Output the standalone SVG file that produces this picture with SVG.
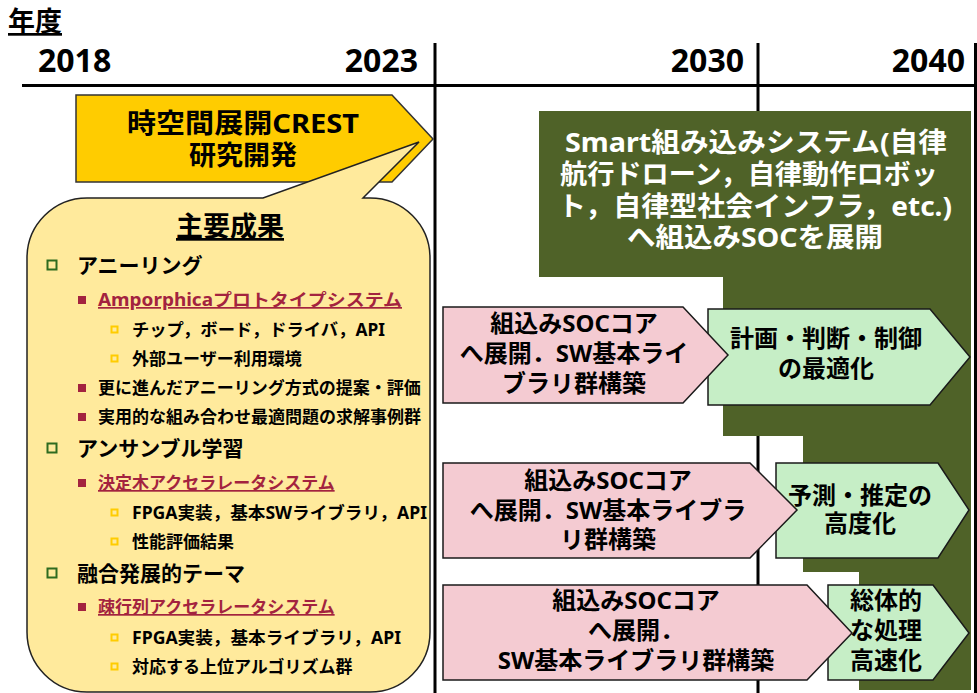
<svg xmlns="http://www.w3.org/2000/svg" width="977" height="693" viewBox="0 0 977 693">
<style>
text{font-family:"Noto Sans","Noto Sans CJK JP",sans-serif;font-weight:bold;fill:#000}
.yr{font-size:32px}
.l1{font-size:21px}
.l2{font-size:17px}
.l3{font-size:17px}
.red{fill:#A3233F;text-decoration:underline}
.c{text-anchor:middle}
.ar{font-size:24px}
.wt{fill:#fff;font-size:27px;text-anchor:middle}
.b1{fill:none;stroke:#2E6B1F;stroke-width:2}
.b2{fill:#A3233F}
.b3{fill:none;stroke:#FFCC00;stroke-width:2}
.pink{fill:#F4CBD2;stroke:#1a1a1a;stroke-width:1.5}
.lg{fill:#C6EEC6;stroke:#1a1a1a;stroke-width:1.5}
.axis{stroke:#000;stroke-width:3}
</style>
<rect width="977" height="693" fill="#fff"/>
<g id="axes">
<text x="8" y="31" style="font-size:27px;text-decoration:underline">年度</text>
<text class="yr" x="38" y="72">2018</text>
<text class="yr" x="418" y="72" text-anchor="end">2023</text>
<text class="yr" x="744" y="72" text-anchor="end">2030</text>
<text class="yr" x="965" y="72" text-anchor="end">2040</text>
<line class="axis" x1="22" y1="85.5" x2="977" y2="85.5"/>
<line class="axis" x1="435" y1="43" x2="435" y2="693"/>
<line class="axis" x1="758" y1="43" x2="758" y2="693"/>
<line class="axis" x1="975.5" y1="43" x2="975.5" y2="693"/>
</g>
<g id="crest">
<polygon points="76,95 392,95 433,139 392,182 76,182" fill="#FFCC00" stroke="#333" stroke-width="1.5"/>
<text class="c" x="243" y="133" style="font-size:27px" textLength="232" lengthAdjust="spacingAndGlyphs">時空間展開CREST</text>
<text class="c" x="243" y="165" style="font-size:27px">研究開発</text>
</g>
<g id="results">
<path d="M87,198 L263,198 L419,142 L363,198 L370,198 A60,60 0 0 1 430,258 L430,632 A60,60 0 0 1 370,692 L87,692 A60,60 0 0 1 27,632 L27,258 A60,60 0 0 1 87,198 Z" fill="#FFEA9C" stroke="#222" stroke-width="1.5"/>
<text class="c" x="230" y="236" style="font-size:27px;text-decoration:underline">主要成果</text>
<rect class="b1" x="47.5" y="260.5" width="9" height="9"/>
<text class="l1" x="77" y="273">アニーリング</text>
<rect class="b2" x="78" y="296" width="8" height="8"/>
<text class="l2 red" x="98" y="306" textLength="304" lengthAdjust="spacingAndGlyphs">Amporphicaプロトタイプシステム</text>
<rect class="b3" x="111.5" y="326.5" width="6" height="6"/>
<text class="l3" x="132" y="336" textLength="253" lengthAdjust="spacingAndGlyphs">チップ，ボード，ドライバ，API</text>
<rect class="b3" x="111.5" y="355.5" width="6" height="6"/>
<text class="l3" x="132" y="365">外部ユーザー利用環境</text>
<rect class="b2" x="78" y="384" width="8" height="8"/>
<text class="l2" x="98" y="394">更に進んだアニーリング方式の提案・評価</text>
<rect class="b2" x="78" y="413" width="8" height="8"/>
<text class="l2" x="98" y="423">実用的な組み合わせ最適問題の求解事例群</text>
<rect class="b1" x="47.5" y="443.5" width="9" height="9"/>
<text class="l1" x="77" y="456">アンサンブル学習</text>
<rect class="b2" x="78" y="479" width="8" height="8"/>
<text class="l2 red" x="98" y="489">決定木アクセラレータシステム</text>
<rect class="b3" x="111.5" y="509.5" width="6" height="6"/>
<text class="l3" x="132" y="519" textLength="295" lengthAdjust="spacingAndGlyphs">FPGA実装，基本SWライブラリ，API</text>
<rect class="b3" x="111.5" y="538.5" width="6" height="6"/>
<text class="l3" x="132" y="548">性能評価結果</text>
<rect class="b1" x="47.5" y="568.5" width="9" height="9"/>
<text class="l1" x="77" y="581">融合発展的テーマ</text>
<rect class="b2" x="78" y="603" width="8" height="8"/>
<text class="l2 red" x="98" y="613">疎行列アクセラレータシステム</text>
<rect class="b3" x="111.5" y="634.5" width="6" height="6"/>
<text class="l3" x="132" y="644" textLength="269" lengthAdjust="spacingAndGlyphs">FPGA実装，基本ライブラリ，API</text>
<rect class="b3" x="111.5" y="663.5" width="6" height="6"/>
<text class="l3" x="132" y="673">対応する上位アルゴリズム群</text>
</g>
<g id="smart">
<polygon points="539,111 971,111 971,690 859,690 859,572 803,572 803,436 723,436 723,277 539,277" fill="#4F6228"/>
<text class="wt" x="756" y="152" textLength="382" lengthAdjust="spacingAndGlyphs">Smart組み込みシステム(自律</text>
<text class="wt" x="749" y="184" textLength="378" lengthAdjust="spacingAndGlyphs">航行ドローン，自律動作ロボッ</text>
<text class="wt" x="755" y="216" textLength="394" lengthAdjust="spacingAndGlyphs">ト，自律型社会インフラ，etc.)</text>
<text class="wt" x="755" y="247" textLength="256" lengthAdjust="spacingAndGlyphs">へ組込みSOCを展開</text>
</g>
<g id="goal1">
<polygon class="lg" points="708,309 930,309 970,357 930,405 708,405"/>
<text class="ar c" x="826" y="347">計画・判断・制御</text>
<text class="ar c" x="826" y="377">の最適化</text>
</g>
<g id="goal2">
<polygon class="lg" points="776,463 938,463 969,510 938,558 776,558"/>
<text class="ar c" x="860" y="504">予測・推定の</text>
<text class="ar c" x="860" y="532">高度化</text>
</g>
<g id="goal3">
<polygon class="lg" points="828,585 933,585 969,633 933,680 828,680"/>
<text class="ar c" x="886" y="609">総体的</text>
<text class="ar c" x="886" y="639">な処理</text>
<text class="ar c" x="886" y="669">高速化</text>
</g>
<g id="soc1">
<polygon class="pink" points="443,307 683,307 728,355 683,403 443,403"/>
<text class="ar c" x="574" y="332">組込みSOCコア</text>
<text class="ar c" x="574" y="362">へ展開．SW基本ライ</text>
<text class="ar c" x="574" y="392">ブラリ群構築</text>
</g>
<g id="soc2">
<polygon class="pink" points="443,463 750,463 797,510 750,558 443,558"/>
<text class="ar c" x="608" y="489">組込みSOCコア</text>
<text class="ar c" x="608" y="519">へ展開．SW基本ライブラ</text>
<text class="ar c" x="608" y="548">リ群構築</text>
</g>
<g id="soc3">
<polygon class="pink" points="443,585 807,585 852,633 807,680 443,680"/>
<text class="ar c" x="636" y="609">組込みSOCコア</text>
<text class="ar c" x="636" y="639">へ展開．</text>
<text class="ar c" x="636" y="669">SW基本ライブラリ群構築</text>
</g>
<g id="connectors"></g>
</svg>
